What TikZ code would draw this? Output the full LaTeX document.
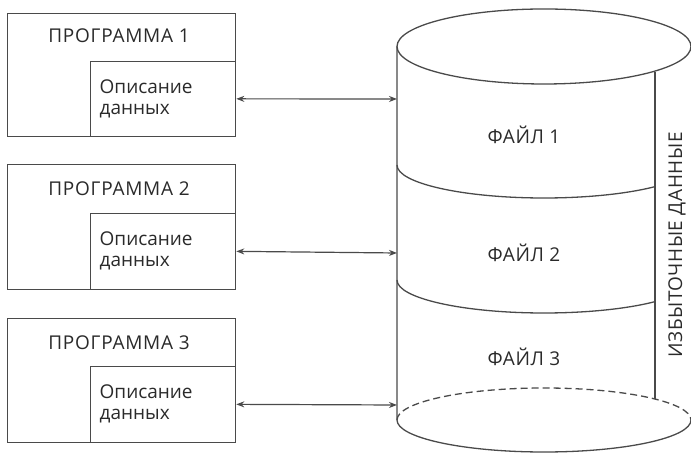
\documentclass[tikz,border=0pt]{standalone}
\usepackage{fontspec}
\setmainfont{Open Sans}
\usetikzlibrary{arrows.meta}
\definecolor{ln}{HTML}{4A4A4A}
\definecolor{tx}{HTML}{2A2A2A}
\tikzset{
  box/.style={draw=ln, line width=1.3pt, rectangle, inner sep=0pt, anchor=south west},
  title/.style={text=tx, font=\fontsize{19}{21}\selectfont\addfontfeatures{LetterSpace=4}},
  desc/.style={draw=ln, line width=1.3pt, rectangle, anchor=south west, minimum width=145pt, text width=127pt, inner xsep=9pt, align=left, text=tx, font=\fontsize{19}{21}\selectfont},
  cyl/.style={draw=ln, line width=1.3pt},
  conn/.style={draw=ln, line width=1.2pt, {Stealth[length=8pt,width=6pt]}-{Stealth[length=8pt,width=6pt]}},
  flabel/.style={text=tx, font=\fontsize{19}{21}\selectfont\addfontfeatures{LetterSpace=3}}
}
\begin{document}
\begin{tikzpicture}[x=1pt,y=1pt]
\useasboundingbox (0,0) rectangle (691,462);
% programs
\node[box, minimum width=228pt, minimum height=123pt] (p1) at (7,325) {};
\node[desc, minimum height=75pt] (d1) at (90,325) {Описание\\данных};
\node[title] (t1) at (119,426) {ПРОГРАММА 1};
\node[box, minimum width=228pt, minimum height=125pt] (p2) at (7,172) {};
\node[desc, minimum height=76pt] (d2) at (90,172) {Описание\\данных};
\node[title] (t2) at (119,273) {ПРОГРАММА 2};
\node[box, minimum width=228pt, minimum height=124pt] (p3) at (7,19) {};
\node[desc, minimum height=76pt] (d3) at (90,19) {Описание\\данных};
\node[title] (t3) at (119,119) {ПРОГРАММА 3};
% cylinder
\draw[cyl] (544,415.5) ellipse[x radius=147, y radius=37.5];
\draw[cyl] (397,415.5) -- (397,42) arc[start angle=180, end angle=360, x radius=147, y radius=32];
\draw[cyl, dashed, dash pattern=on 7pt off 4pt] (397,42) arc[start angle=180, end angle=0, x radius=147, y radius=32];
\draw[cyl] (397,297) arc[start angle=180, end angle=319, x radius=147, y radius=33];
\draw[cyl] (397,182) arc[start angle=180, end angle=319, x radius=147, y radius=33];
\draw[cyl] (655,390) -- (655,63);
\coordinate (w1) at (397,363);
\coordinate (w2) at (397,209);
\coordinate (w3) at (397,57);
\draw[conn] (d1.east) -- (w1);
\draw[conn] (d2.east) -- (w2);
\draw[conn] (d3.east) -- (w3);
\node[flabel] (f1) at (524,327) {ФАЙЛ 1};
\node[flabel] (f2) at (524,209) {ФАЙЛ 2};
\node[flabel] (f3) at (524,105) {ФАЙЛ 3};
\node[flabel, rotate=90] (r) at (677,217) {ИЗБЫТОЧНЫЕ ДАННЫЕ};
\end{tikzpicture}
\end{document}
